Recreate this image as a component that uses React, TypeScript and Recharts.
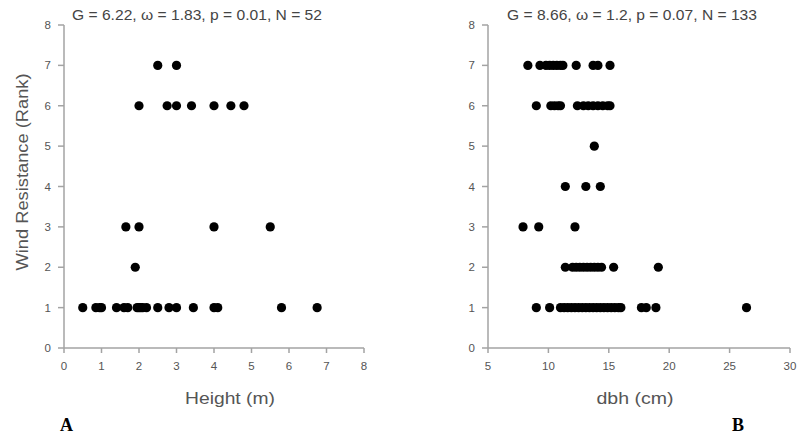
import React from 'react';
import { ScatterChart, Scatter, XAxis, YAxis } from 'recharts';

// Panel A: tree height (m) per wind resistance rank
const heightRank7 = [2.5, 3.0];
const heightRank6 = [2.0, 2.75, 3.0, 3.4, 4.0, 4.45, 4.8];
const heightRank3 = [1.65, 2.0, 4.0, 5.5];
const heightRank2 = [1.9];
const heightRank1 = [0.5, 0.85, 0.95, 1.0, 1.4, 1.6, 1.7, 1.95, 2.0, 2.05, 2.1, 2.2, 2.5, 2.8, 3.0, 3.45, 4.0, 4.1, 5.8, 6.75];

// Panel B: dbh (cm) per wind resistance rank
const dbhRank7 = [8.3, 9.3, 9.8, 10.1, 10.4, 10.7, 11.0, 11.2, 12.3, 13.7, 14.1, 15.1];
const dbhRank6 = [9.0, 10.2, 10.5, 10.8, 11.0, 12.4, 12.9, 13.3, 13.7, 14.1, 14.5, 14.9, 15.1];
const dbhRank5 = [13.8];
const dbhRank4 = [11.4, 13.1, 14.3];
const dbhRank3 = [7.9, 9.2, 12.2];
const dbhRank2 = [11.4, 12.0, 12.3, 12.6, 12.9, 13.2, 13.5, 13.8, 14.1, 14.4, 15.4, 19.1];
const dbhRank1 = [9.0, 10.1, 11.0, 11.3, 11.6, 11.9, 12.2, 12.5, 12.8, 13.1, 13.4, 13.7, 14.0, 14.3, 14.6, 14.9, 15.2, 15.5, 15.8, 16.0, 17.7, 18.1, 18.9, 26.4];

const rankTicks = [0, 1, 2, 3, 4, 5, 6, 7, 8];
const heightTicks = [0, 1, 2, 3, 4, 5, 6, 7, 8];
const dbhTicks = [5, 10, 15, 20, 25, 30];

const titleA = 'G = 6.22, ω = 1.83, p = 0.01, N = 52';
const titleB = 'G = 8.66, ω = 1.2, p = 0.07, N = 133';

const toPoints = (groups: [number, number[]][]) =>
  groups.flatMap(([rank, xs]) => xs.map((x) => ({ x, y: rank })));

const dataA = toPoints([
  [7, heightRank7],
  [6, heightRank6],
  [3, heightRank3],
  [2, heightRank2],
  [1, heightRank1],
]);

const dataB = toPoints([
  [7, dbhRank7],
  [6, dbhRank6],
  [5, dbhRank5],
  [4, dbhRank4],
  [3, dbhRank3],
  [2, dbhRank2],
  [1, dbhRank1],
]);

const AXIS = '#a3a3a3';
const TICK = { fill: '#555555', stroke: 'none', fontSize: 11.5, fontFamily: 'Liberation Sans, Arial, sans-serif' };

const Dot = (props: any) => <circle cx={props.cx} cy={props.cy} r={4.6} fill="#000" />;

export default function App() {
  return (
    <div style={{ position: 'absolute', left: 0, top: 0, width: 798, height: 436, background: '#fff' }}>
      <div style={{ position: 'absolute', left: 0, top: 0 }}>
        <ScatterChart width={400} height={436} margin={{ top: 25, right: 36, bottom: 58, left: 34 }}>
          <XAxis
            type="number"
            dataKey="x"
            domain={[0, 8]}
            ticks={heightTicks}
            height={30}
            stroke={AXIS}
            strokeWidth={1.5}
            tickSize={5}
            tickMargin={9}
            tick={TICK}
          />
          <YAxis
            type="number"
            dataKey="y"
            domain={[0, 8]}
            ticks={rankTicks}
            width={30}
            stroke={AXIS}
            strokeWidth={1.5}
            tickSize={6}
            tickMargin={7}
            tick={TICK}
          />
          <Scatter data={dataA} fill="#000" shape={Dot} isAnimationActive={false} />
        </ScatterChart>
      </div>
      <div style={{ position: 'absolute', left: 400, top: 0 }}>
        <ScatterChart width={398} height={436} margin={{ top: 25, right: 8, bottom: 58, left: 58 }}>
          <XAxis
            type="number"
            dataKey="x"
            domain={[5, 30]}
            ticks={dbhTicks}
            height={30}
            stroke={AXIS}
            strokeWidth={1.5}
            tickSize={5}
            tickMargin={9}
            tick={TICK}
          />
          <YAxis
            type="number"
            dataKey="y"
            domain={[0, 8]}
            ticks={rankTicks}
            width={30}
            stroke={AXIS}
            strokeWidth={1.5}
            tickSize={6}
            tickMargin={7}
            tick={TICK}
          />
          <Scatter data={dataB} fill="#000" shape={Dot} isAnimationActive={false} />
        </ScatterChart>
      </div>
      <svg
        width={798}
        height={436}
        style={{ position: 'absolute', left: 0, top: 0, pointerEvents: 'none' }}
        fontFamily="Liberation Sans, Arial, sans-serif"
      >
        <text x={197} y={20} textAnchor="middle" fontSize={15} fill="#444" textLength={250} lengthAdjust="spacingAndGlyphs">
          {titleA}
        </text>
        <text x={632} y={20} textAnchor="middle" fontSize={15} fill="#444" textLength={250} lengthAdjust="spacingAndGlyphs">
          {titleB}
        </text>
        <text
          x={0}
          y={0}
          transform="translate(28,172) rotate(-90)"
          textAnchor="middle"
          fontSize={16}
          fill="#555"
          textLength={197}
          lengthAdjust="spacingAndGlyphs"
        >
          Wind Resistance (Rank)
        </text>
        <text x={230} y={404} textAnchor="middle" fontSize={17} fill="#555" textLength={90} lengthAdjust="spacingAndGlyphs">
          Height (m)
        </text>
        <text x={635} y={404} textAnchor="middle" fontSize={17} fill="#555" textLength={77} lengthAdjust="spacingAndGlyphs">
          dbh (cm)
        </text>
        <text x={60} y={431} fontSize={18} fontWeight="bold" fill="#000" fontFamily="Liberation Serif, Times New Roman, serif">
          A
        </text>
        <text x={732} y={431} fontSize={18} fontWeight="bold" fill="#000" fontFamily="Liberation Serif, Times New Roman, serif">
          B
        </text>
      </svg>
    </div>
  );
}
